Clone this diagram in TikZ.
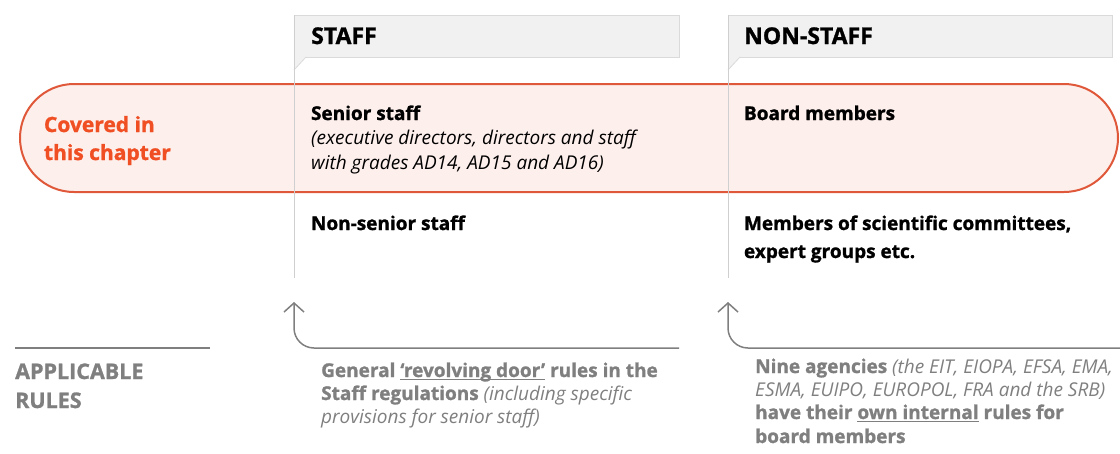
\documentclass[tikz,border=0pt]{standalone}
\usepackage{fontspec}
\setmainfont{Open Sans}[BoldFeatures={FakeBold=1.2}]
\usetikzlibrary{arrows.meta}
\definecolor{orng}{HTML}{E0583A}
\definecolor{pinkfill}{HTML}{FDEFEC}
\definecolor{hdrfill}{HTML}{F1F1F1}
\definecolor{hdrline}{HTML}{DADADA}
\definecolor{vline}{HTML}{CFCFCF}
\definecolor{rulegray}{HTML}{7F7F7F}
\definecolor{covered}{HTML}{F04E23}
\newcommand\myul[1]{\setbox0\hbox{#1}\rlap{\rule[-3pt]{\wd0}{1.3pt}}\box0\relax}
\tikzset{
  hdr/.style={draw=hdrline, fill=hdrfill, line width=0.8},
  vl/.style={draw=vline, line width=1},
  pill/.style={draw=orng, fill=pinkfill, line width=2, rounded corners=54},
  txt/.style={anchor=base west, inner sep=0, outer sep=0, font=\fontsize{19}{28}\selectfont\bfseries},
  hdrtxt/.style={anchor=base west, inner sep=0, font=\fontsize{23}{26}\selectfont\bfseries},
  itl/.style={anchor=base west, inner sep=0, font=\fontsize{19}{25}\selectfont\itshape},
  gtxt/.style={anchor=base west, inner sep=0, text=rulegray, font=\fontsize{19}{23.5}\selectfont\bfseries},
  gitl/.style={anchor=base west, inner sep=0, text=rulegray, font=\fontsize{19}{23.5}\selectfont\itshape},
  rulearrow/.style={draw=rulegray, line width=1.5, rounded corners=20, -{Straight Barb[length=9,width=20,line width=1.5]}},
}
\begin{document}
\begin{tikzpicture}[x=1pt,y=-1pt]
\useasboundingbox (0,0) rectangle (1120,453);
% pill
\path[pill] (20,84) rectangle (1118,192);
% headers
\path[hdr] (294,15) rectangle (679,57);
\path[hdr] (728,15) rectangle (1112,57);
\fill[hdrfill] (294,57) -- (306,57) -- (294,70) -- cycle;
\fill[hdrfill] (728,57) -- (740,57) -- (728,70) -- cycle;
\draw[hdrline, line width=0.8] (306,57) -- (294,70);
\draw[hdrline, line width=0.8] (740,57) -- (728,70);
% vertical lines
\coordinate (s1) at (294,15); \coordinate (s2) at (294,278);
\coordinate (n1) at (728,15); \coordinate (n2) at (728,278);
\draw[vl] (s1) -- (s2);
\draw[vl] (n1) -- (n2);
% header text
\node[hdrtxt] (staff) at (311,44) {STAFF};
\node[hdrtxt] (nonstaff) at (744,44) {NON-STAFF};
% covered
\node[txt, text=covered, font=\fontsize{21}{28}\selectfont\bfseries] (covered) at (44,132) {Covered in};
\node[txt, text=covered, font=\fontsize{21}{28}\selectfont\bfseries] (covered2) at (44,160) {this chapter};
% staff content
\node[txt] (senior) at (311,120) {Senior staff};
\node[itl] (exec) at (311,144) {(executive directors, directors and staff};
\node[itl] (grades) at (311,169) {with grades AD14, AD15 and AD16)};
\node[txt] (nonsenior) at (311,230) {Non-senior staff};
\node[txt] (board) at (744,120) {Board members};
\node[txt] (members) at (744,230) {Members of scientific committees,};
\node[txt] (expert) at (744,258) {expert groups etc.};
% applicable rules
\coordinate (ar1) at (15,348); \coordinate (ar2) at (210,348);
\draw[rulegray, line width=1.5] (ar1) -- (ar2);
\node[gtxt, font=\fontsize{21.5}{29}\selectfont\bfseries] (appl) at (15,379) {APPLICABLE};
\node[gtxt, font=\fontsize{21.5}{29}\selectfont\bfseries] (rules) at (15,408) {RULES};
% arrows
\coordinate (a1s) at (679,348); \coordinate (a1e) at (294,302);
\coordinate (a2s) at (1120,348); \coordinate (a2e) at (728,302);
\draw[rulearrow] (a1s) -| (a1e);
\draw[rulearrow] (a2s) -| (a2e);
% staff rules text
\node[gtxt] (g1) at (321,377) {General \myul{‘revolving door’} rules in the};
\node[gtxt] (g2) at (321,400) {Staff regulations \textnormal{\itshape(including specific}};
\node[gitl] (g3) at (321,423) {provisions for senior staff)};
% nonstaff rules text
\node[gtxt] (n1t) at (755,373) {Nine agencies \textnormal{\itshape(the EIT, EIOPA, EFSA, EMA,}};
\node[gitl] (n2t) at (755,396) {ESMA, EUIPO, EUROPOL, FRA and the SRB)};
\node[gtxt] (n3t) at (755,419) {have their \myul{own internal} rules for};
\node[gtxt] (n4t) at (755,443) {board members};
\end{tikzpicture}
\end{document}
